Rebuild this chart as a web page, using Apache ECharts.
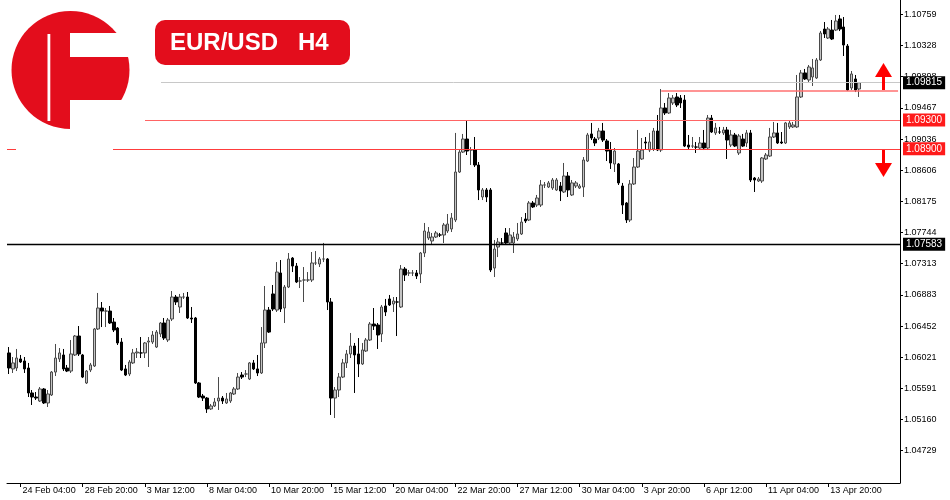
<!DOCTYPE html>
<html>
<head>
<meta charset="utf-8">
<script src="https://cdn.jsdelivr.net/npm/echarts@6/dist/echarts.min.js"></script>
<style>
html,body{margin:0;padding:0;background:#fff;}
#c{width:950px;height:500px;}
</style>
</head>
<body>
<div id="c"></div>
<script>
// ---- data (EUR/USD H4) ----
const opens = [1.06080,1.05859,1.05872,1.05997,1.05969,1.05872,1.05527,1.05471,1.05416,1.05582,
1.05389,1.05499,1.05816,1.05997,1.06052,1.05872,1.05830,1.06052,1.06314,1.06052,
1.05665,1.05844,1.05900,1.06411,1.06701,1.06659,1.06659,1.06507,1.06424,1.06231,
1.05859,1.05789,1.05942,1.06080,1.06080,1.06080,1.06231,1.06231,1.06162,1.06342,
1.06494,1.06259,1.06549,1.06853,1.06715,1.06853,1.06853,1.06563,1.06563,1.05665,
1.05485,1.05457,1.05306,1.05347,1.05416,1.05457,1.05389,1.05416,1.05513,1.05582,
1.05775,1.05789,1.05720,1.05942,1.05859,1.05803,1.06218,1.06673,1.06895,1.06673,
1.07185,1.06701,1.06991,1.07391,1.07281,1.07074,1.07088,1.07088,1.07088,1.07323,
1.07309,1.07378,1.07378,1.06784,1.05457,1.05568,1.05747,1.05942,1.06066,1.06176,
1.06066,1.05928,1.06107,1.06259,1.06480,1.06466,1.06342,1.06729,1.06826,1.06757,
1.06784,1.06715,1.07240,1.07185,1.07185,1.07185,1.07171,1.07461,1.07668,1.07627,
1.07682,1.07710,1.07710,1.07765,1.07793,1.07917,1.08580,1.08856,1.09036,1.08884,
1.08884,1.08677,1.08235,1.08332,1.08332,1.07253,1.07544,1.07599,1.07738,1.07599,
1.07599,1.07655,1.07724,1.07931,1.07917,1.08152,1.08124,1.08124,1.08401,1.08373,
1.08359,1.08332,1.08387,1.08304,1.08525,1.08263,1.08387,1.08359,1.08373,1.08732,
1.09106,1.09036,1.09050,1.09147,1.09009,1.08884,1.08691,1.08691,1.08387,1.08152,
1.07917,1.08415,1.08649,1.08760,1.08995,1.08884,1.08898,1.09147,1.08884,1.09465,
1.09396,1.09534,1.09617,1.09603,1.09575,1.08953,1.08939,1.08925,1.08912,1.08981,
1.08912,1.09326,1.09120,1.09133,1.09120,1.09161,1.08953,1.09092,1.08843,1.09036,
1.08981,1.09120,1.08497,1.08456,1.08456,1.08760,1.08801,1.09064,1.09120,1.08995,
1.08981,1.09203,1.09203,1.09203,1.09617,1.09949,1.09852,1.09893,1.09880,1.10128,
1.10556,1.10432,1.10542,1.10542,1.10695,1.10584,1.10321,1.09741,1.09866,1.09727];
const closes = [1.05872,1.05942,1.06010,1.05955,1.05859,1.05527,1.05471,1.05457,1.05582,1.05389,
1.05513,1.05816,1.06010,1.06080,1.05859,1.05830,1.06066,1.06314,1.06066,1.05747,
1.05830,1.05914,1.06411,1.06701,1.06659,1.06659,1.06494,1.06397,1.06218,1.05844,
1.05775,1.05955,1.06080,1.06093,1.06080,1.06218,1.06245,1.06328,1.06369,1.06494,
1.06286,1.06535,1.06853,1.06784,1.06853,1.06853,1.06563,1.06549,1.05665,1.05471,
1.05457,1.05306,1.05347,1.05402,1.05457,1.05416,1.05444,1.05527,1.05582,1.05747,
1.05747,1.05789,1.05942,1.05859,1.05803,1.06218,1.06673,1.06369,1.06687,1.07198,
1.06687,1.06991,1.07378,1.07281,1.07060,1.07074,1.07088,1.07088,1.07323,1.07323,
1.07378,1.07378,1.06784,1.05457,1.05568,1.05747,1.05942,1.06066,1.06176,1.06052,
1.05928,1.06121,1.06259,1.06480,1.06452,1.06328,1.06715,1.06646,1.06743,1.06798,
1.06784,1.07240,1.07157,1.07185,1.07185,1.07143,1.07461,1.07765,1.07751,1.07682,
1.07738,1.07710,1.07848,1.07862,1.07945,1.08580,1.08856,1.09036,1.08870,1.08884,
1.08677,1.08332,1.08332,1.08235,1.07226,1.07516,1.07613,1.07599,1.07599,1.07710,
1.07682,1.07724,1.07889,1.07903,1.08152,1.08097,1.08221,1.08401,1.08401,1.08429,
1.08470,1.08470,1.08318,1.08525,1.08332,1.08429,1.08429,1.08387,1.08746,1.09092,
1.09050,1.08981,1.09147,1.09022,1.08870,1.08705,1.08870,1.08429,1.08124,1.07917,
1.08415,1.08649,1.08870,1.08884,1.08981,1.08995,1.09147,1.08884,1.09465,1.09396,
1.09603,1.09603,1.09506,1.09534,1.08939,1.08925,1.08939,1.08925,1.08981,1.08912,
1.09326,1.09133,1.09189,1.09133,1.09161,1.09022,1.09092,1.08939,1.09078,1.08939,
1.09120,1.08470,1.08470,1.08484,1.08774,1.08815,1.09064,1.09120,1.08981,1.08981,
1.09258,1.09258,1.09230,1.09617,1.09949,1.09866,1.10031,1.10018,1.10128,1.10501,
1.10487,1.10556,1.10418,1.10667,1.10556,1.10335,1.09713,1.09935,1.09713,1.09815];
const lows = [1.05789,1.05803,1.05830,1.05942,1.05803,1.05471,1.05361,1.05430,1.05402,1.05375,
1.05333,1.05485,1.05761,1.05955,1.05830,1.05816,1.05803,1.06038,1.06038,1.05733,
1.05651,1.05816,1.05886,1.06397,1.06438,1.06438,1.06480,1.06369,1.06190,1.05830,
1.05761,1.05761,1.05928,1.06010,1.06010,1.06010,1.05886,1.06204,1.06148,1.06300,
1.06259,1.06231,1.06521,1.06743,1.06632,1.06826,1.06549,1.06494,1.05651,1.05457,
1.05416,1.05251,1.05292,1.05333,1.05292,1.05375,1.05375,1.05389,1.05499,1.05568,
1.05720,1.05747,1.05706,1.05844,1.05761,1.05789,1.06148,1.06356,1.06659,1.06646,
1.06646,1.06494,1.06977,1.07198,1.07046,1.06977,1.06784,1.07060,1.07060,1.07295,
1.07267,1.07336,1.06673,1.05223,1.05181,1.05471,1.05733,1.05872,1.06010,1.05527,
1.05747,1.05914,1.06093,1.06245,1.06397,1.06135,1.06231,1.06590,1.06729,1.06646,
1.06314,1.06701,1.07074,1.07143,1.07143,1.07102,1.07046,1.07405,1.07641,1.07572,
1.07668,1.07682,1.07599,1.07738,1.07751,1.07889,1.08567,1.08843,1.08815,1.08677,
1.08649,1.08193,1.08193,1.08165,1.07198,1.07129,1.07405,1.07572,1.07586,1.07586,
1.07461,1.07627,1.07710,1.07876,1.07903,1.08083,1.08097,1.08097,1.08359,1.08359,
1.08332,1.08318,1.08179,1.08290,1.08235,1.08249,1.08359,1.08346,1.08235,1.08718,
1.09022,1.08939,1.09022,1.08995,1.08732,1.08622,1.08580,1.08401,1.08000,1.07876,
1.07889,1.08401,1.08635,1.08746,1.08898,1.08856,1.08870,1.08870,1.08856,1.09368,
1.09382,1.09506,1.09478,1.09465,1.08925,1.08898,1.08912,1.08843,1.08884,1.08884,
1.08884,1.09120,1.09092,1.09106,1.09092,1.08760,1.08925,1.08925,1.08815,1.08925,
1.08925,1.08442,1.08304,1.08442,1.08429,1.08746,1.08787,1.09050,1.08967,1.08967,
1.08967,1.09175,1.09189,1.09189,1.09603,1.09852,1.09824,1.09769,1.09866,1.10114,
1.10432,1.10418,1.10404,1.10528,1.10528,1.10183,1.09699,1.09713,1.09685,1.09617];
const highs = [1.06162,1.06024,1.06135,1.06052,1.06024,1.05942,1.05568,1.05540,1.05609,1.05595,
1.05568,1.05830,1.06204,1.06148,1.06135,1.05914,1.06259,1.06328,1.06452,1.06066,
1.05844,1.05942,1.06425,1.06909,1.06784,1.06701,1.06729,1.06563,1.06438,1.06286,
1.05914,1.05983,1.06135,1.06148,1.06300,1.06231,1.06300,1.06383,1.06397,1.06507,
1.06563,1.06563,1.06936,1.06881,1.06895,1.06909,1.06922,1.06715,1.06577,1.05679,
1.05513,1.05471,1.05375,1.05457,1.05747,1.05485,1.05527,1.05540,1.05609,1.05803,
1.05816,1.05844,1.05955,1.05983,1.06052,1.06438,1.07005,1.06715,1.07019,1.07336,
1.07364,1.07019,1.07461,1.07405,1.07323,1.07129,1.07267,1.07198,1.07475,1.07488,
1.07405,1.07600,1.07391,1.06839,1.05609,1.05803,1.05997,1.06121,1.06356,1.06218,
1.06286,1.06218,1.06286,1.06507,1.06701,1.06494,1.06743,1.06826,1.06881,1.06853,
1.06853,1.07295,1.07267,1.07226,1.07226,1.07226,1.07475,1.07876,1.07820,1.07738,
1.07765,1.07738,1.07876,1.08000,1.08014,1.09120,1.08884,1.09106,1.09285,1.08925,
1.09064,1.08718,1.08359,1.08359,1.08359,1.07641,1.07668,1.07668,1.07806,1.07806,
1.07751,1.07876,1.07958,1.08014,1.08179,1.08179,1.08263,1.08470,1.08442,1.08456,
1.08497,1.08497,1.08442,1.08705,1.08580,1.08470,1.08456,1.08415,1.08787,1.09120,
1.09258,1.09064,1.09189,1.09258,1.09036,1.08995,1.08912,1.08705,1.08429,1.08165,
1.08470,1.08774,1.09161,1.09050,1.09064,1.09120,1.09189,1.09368,1.09727,1.09534,
1.09672,1.09644,1.09672,1.09644,1.09644,1.09092,1.09064,1.08995,1.09064,1.09161,
1.09368,1.09368,1.09258,1.09203,1.09203,1.09203,1.09161,1.09120,1.09106,1.09106,
1.09161,1.09161,1.08511,1.08511,1.08787,1.08843,1.09189,1.09272,1.09258,1.09133,
1.09272,1.09285,1.09272,1.09921,1.09990,1.10004,1.10059,1.10142,1.10155,1.10529,
1.10653,1.10584,1.10681,1.10750,1.10750,1.10722,1.10349,1.09976,1.09921,1.09824];

// price-axis tick labels
const yTicks = [1.04729,1.05160,1.05591,1.06021,1.06452,1.06883,1.07313,1.07744,1.08175,1.08606,1.09036,1.09467,1.09898,1.10328,1.10759];
// horizontal levels
const currentPrice = 1.09815;
const levelBlack = 1.07583;
const levelRed1 = 1.09300;
const levelRed2 = 1.08900;
const levelTop = 1.09700;
const levelTopStartIndex = 168;
const lastLabelIndex = 211; // "13 Apr 20:00"

// H4 bar times, first visible bar 23 Feb 2023 16:00, weekends skipped
const months = ['Jan','Feb','Mar','Apr','May','Jun','Jul','Aug','Sep','Oct','Nov','Dec'];
const categories = [];
(function(){
  let t = Date.UTC(2023,1,23,16);
  while (categories.length < 230) {
    const d = new Date(t);
    const wd = d.getUTCDay();
    if (wd !== 0 && wd !== 6) {
      const hh = String(d.getUTCHours()).padStart(2,'0');
      categories.push(d.getUTCDate() + ' ' + months[d.getUTCMonth()] + ' ' + hh + ':00');
    }
    t += 4*3600*1000;
  }
})();

const candles = opens.map((o,i)=>[o, closes[i], lows[i], highs[i]]);

const RED = '#e30d1c';
const chart = echarts.init(document.getElementById('c'), null, {renderer:'canvas'});
const lblFont = {fontFamily:'Liberation Sans, Arial, sans-serif', fontSize:9, color:'#000'};
const tickShow = (i)=> i % 16 === 3 && i <= lastLabelIndex;
const boxLabel = (txt, bg)=>({show:true, position:'end', distance:3, formatter:txt, backgroundColor:bg, color:'#fff', padding:[2,3,1,3], fontSize:10, fontFamily:'Liberation Sans, Arial'});

chart.setOption({
  animation:false,
  backgroundColor:'#fff',
  grid:{left:7, right:50, top:0, bottom:17, containLabel:false},
  xAxis:{
    type:'category', data:categories, boundaryGap:true,
    axisLine:{show:true, lineStyle:{color:'#000', width:1}},
    axisTick:{show:true, interval:(i)=>tickShow(i), length:4, alignWithLabel:true, lineStyle:{color:'#000'}},
    axisLabel:Object.assign({interval:(i)=>tickShow(i), align:'left', margin:3, padding:[0,0,0,2]}, lblFont),
    splitLine:{show:false}
  },
  yAxis:{
    type:'value', position:'right', min:1.04283, max:1.10957, scale:true,
    axisLine:{show:true, lineStyle:{color:'#000', width:1}},
    axisTick:{show:true, length:3, customValues:yTicks, lineStyle:{color:'#000'}},
    axisLabel:Object.assign({customValues:yTicks, margin:4, formatter:(v)=>v.toFixed(5)}, lblFont),
    splitLine:{show:false}
  },
  series:[{
    type:'candlestick',
    data:candles,
    barWidth:3,
    clip:true,
    itemStyle:{color:'#c4c4c4', color0:'#000000', borderColor:'#4a4a4a', borderColor0:'#000000', borderWidth:1},
    markLine:{
      silent:true, symbol:'none', animation:false, precision:5,
      data:[
        {yAxis:currentPrice, lineStyle:{color:'#c8c8c8', width:1, type:'solid'}, label:boxLabel(currentPrice.toFixed(5), '#000')},
        {yAxis:levelRed1, lineStyle:{color:'#ff6464', width:1.2, type:'solid'}, label:boxLabel(levelRed1.toFixed(5), '#ff1a1a')},
        {yAxis:levelRed2, lineStyle:{color:'#ff3c3c', width:1.2, type:'solid'}, label:boxLabel(levelRed2.toFixed(5), '#ff1a1a')},
        {yAxis:levelBlack, lineStyle:{color:'#000', width:1.3, type:'solid'}, label:boxLabel(levelBlack.toFixed(5), '#000')},
        [
          {coord:[categories[levelTopStartIndex], levelTop], lineStyle:{color:'#ff7070', width:1.5, type:'solid'}, label:{show:false}},
          {coord:[categories[categories.length-1], levelTop]}
        ]
      ]
    }
  }],
  graphic:[
    // white backing behind logo / badge (hides level lines there)
    {type:'rect', z:100, shape:{x:0, y:78, width:161, height:10}, style:{fill:'#fff'}},
    {type:'rect', z:100, shape:{x:0, y:115, width:145, height:10}, style:{fill:'#fff'}},
    {type:'rect', z:100, shape:{x:16, y:144, width:97, height:10}, style:{fill:'#fff'}},
    // logo
    {type:'circle', z:101, shape:{cx:70.5, cy:70, r:59}, style:{fill:RED}},
    {type:'rect', z:102, shape:{x:70, y:33, width:62, height:24}, style:{fill:'#fff'}},
    {type:'rect', z:102, shape:{x:47.5, y:34, width:2.8, height:87}, style:{fill:'#fff'}},
    {type:'rect', z:102, shape:{x:70, y:100, width:62, height:31}, style:{fill:'#fff'}},
    // title badge
    {type:'rect', z:101, shape:{x:155, y:20, width:195, height:45, r:10}, style:{fill:RED}},
    {type:'text', z:102, x:170, y:43, style:{text:'EUR/USD   H4', fill:'#fff', font:'bold 24px "Liberation Sans", Arial, sans-serif', verticalAlign:'middle'}},
    // arrows
    {type:'polygon', z:101, shape:{points:[[875,77],[883.5,63],[892,77]]}, style:{fill:'#ff0000'}},
    {type:'rect', z:101, shape:{x:882, y:76, width:3, height:14}, style:{fill:'#ff0000'}},
    {type:'rect', z:101, shape:{x:882, y:150, width:3, height:14}, style:{fill:'#ff0000'}},
    {type:'polygon', z:101, shape:{points:[[875,163],[892,163],[883.5,177]]}, style:{fill:'#ff0000'}}
  ]
});
</script>
</body>
</html>
